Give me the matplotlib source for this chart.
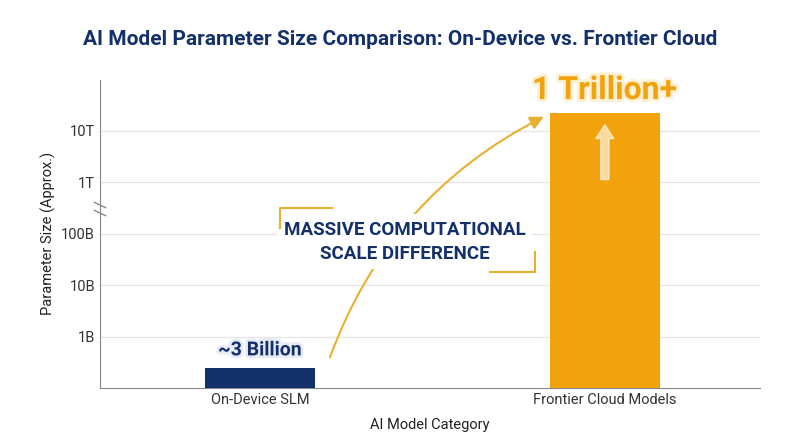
import matplotlib
matplotlib.use("Agg")
import matplotlib.pyplot as plt
import matplotlib.patheffects as pe
from matplotlib.patches import FancyArrowPatch

plt.rcParams['font.family'] = ['Roboto', 'DejaVu Sans']

categories = ["On-Device SLM", "Frontier Cloud Models"]
bar_heights = [2.4e8, 2.2e13]
value_labels = ["~3 Billion", "1 Trillion+"]
tick_values = [1e9, 1e10, 1e11, 1e12, 1e13]
tick_labels = ["1B", "10B", "100B", "1T", "10T"]
colors = ["#14306b", "#f2a20c"]

fig = plt.figure(figsize=(8, 4.47), dpi=100)
ax = fig.add_axes([0.125, 0.132, 0.825, 0.69])
x = [0, 1]
ax.bar(x, bar_heights, width=0.32, color=colors, zorder=3)
ax.set_yscale("log")
ax.set_ylim(1e8, 1e14)
ax.set_xlim(-0.464, 1.45)
ax.set_yticks(tick_values)
ax.set_yticklabels(tick_labels)
ax.minorticks_off()
ax.set_xticks(x)
ax.set_xticklabels(categories)
ax.tick_params(length=0, labelsize=10.5, colors="#333333")
ax.grid(axis="y", color="#e6e6e6", lw=1, zorder=0)
for s in ["top", "right"]:
    ax.spines[s].set_visible(False)
for s in ["left", "bottom"]:
    ax.spines[s].set_color("#888888")
ax.set_ylabel("Parameter Size (Approx.)", fontsize=10.5, color="#222222")
ax.set_xlabel("AI Model Category", fontsize=10.5, color="#222222", labelpad=8)
fig.text(0.5, 0.9, "AI Model Parameter Size Comparison: On-Device vs. Frontier Cloud",
         ha="center", fontsize=15, fontweight="bold", color="#14306b")

# axis break marks
for dy in [0, 8]:
    fig.add_artist(plt.Line2D([0.118, 0.132], [(447-205-dy)/447+0.006, (447-205-dy)/447-0.006],
                              color="#888888", lw=1))

# labels
ax.text(0, 3.6e8, value_labels[0], ha="center", va="bottom", fontsize=14, fontweight="bold",
        color="#14306b", path_effects=[pe.withStroke(linewidth=4, foreground="#e6ebf6")], zorder=5)
ax.text(1, 3.2e13, value_labels[1], ha="center", va="bottom", fontsize=23, fontweight="bold",
        color="#f2a20c", path_effects=[pe.withStroke(linewidth=4, foreground="#fdf0d2")], zorder=5)

# curved arrow
arr = FancyArrowPatch((0.2, 3.5e8), (0.83, 2.0e13), connectionstyle="arc3,rad=-0.2",
                      arrowstyle="-|>,head_length=8,head_width=4", color="#e8b030", lw=1.5, zorder=4)
ax.add_patch(arr)
# white up arrow inside bar
ax.annotate("", xy=(1, 1.5e13), xytext=(1, 1.0e12),
            arrowprops=dict(arrowstyle="simple,head_length=1,head_width=1.3,tail_width=0.6",
                            color="white", alpha=0.6), zorder=5)

# annotation text with bracket corners
ax.text(0.42, 7e10, "MASSIVE COMPUTATIONAL\nSCALE DIFFERENCE", ha="center", va="center",
        fontsize=13.5, fontweight="bold", color="#14306b", linespacing=1.45,
        bbox=dict(boxstyle="square,pad=0.35", fc="white", ec="none"), zorder=6)
bx0, bx1 = 0.058, 0.797
ax.plot([bx0, bx0, bx0 + 0.15], [1.3e11, 3.2e11, 3.2e11], color="#e8b030", lw=1.5, zorder=7)
ax.plot([bx1, bx1, bx1 - 0.13], [4.5e10, 1.8e10, 1.8e10], color="#e8b030", lw=1.5, zorder=7)

fig.savefig("out.png", dpi=100, facecolor="white")
